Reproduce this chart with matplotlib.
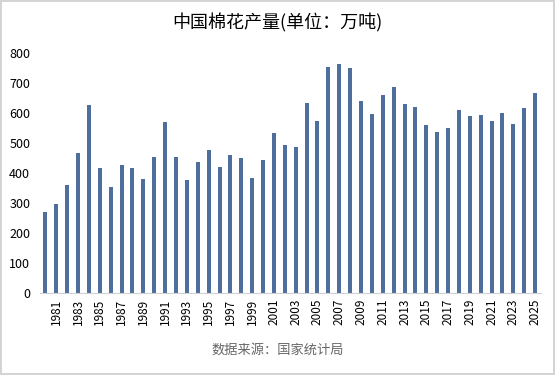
import matplotlib
matplotlib.use('Agg')
import matplotlib.pyplot as plt
import numpy as np

plt.rcParams['font.family'] = ['Noto Sans CJK SC', 'DejaVu Sans']

# 中国棉花产量, 万吨
years = list(range(1980, 2026))
output = [270, 297, 360, 464, 626, 415, 354, 425, 415, 379,
          451, 568, 451, 374, 434, 477, 420, 460, 450, 383,
          442, 532, 492, 486, 632, 571, 753, 762, 749, 638,
          596, 659, 684, 630, 618, 560, 534, 549, 610, 589,
          591, 573, 598, 562, 616, 664]
tick_years = [y for y in years if y % 2 == 1]

bar_color = '#4E6E9E'

fig = plt.figure(figsize=(5.55, 3.75), dpi=100)
fig.patch.set_edgecolor('#d4d4d4')
fig.patch.set_linewidth(1.5)
ax = fig.add_axes([0.072, 0.219, 0.902, 0.641])

x = np.arange(len(years))
ax.bar(x, output, width=0.37, color=bar_color)

ax.set_xlim(-0.5, len(years) - 0.5)
ax.set_ylim(0, 800)
ax.set_yticks(range(0, 801, 100))
ax.set_xticks([years.index(y) for y in tick_years])
ax.set_xticklabels([str(y) for y in tick_years], rotation=90, fontsize=8.5)
ax.tick_params(axis='y', labelsize=9, length=0, pad=7)
ax.tick_params(axis='x', length=0, pad=4)

for side in ['top', 'right', 'left']:
    ax.spines[side].set_visible(False)
ax.spines['bottom'].set_color('#d0d0d0')

fig.text(0.5, 0.94, '中国棉花产量(单位：万吨)', ha='center', va='center', fontsize=13)
fig.text(0.5, 0.065, '数据来源：国家统计局', ha='center', va='center',
         fontsize=9.5, color='#666666')

plt.savefig('out.png', dpi=100)
